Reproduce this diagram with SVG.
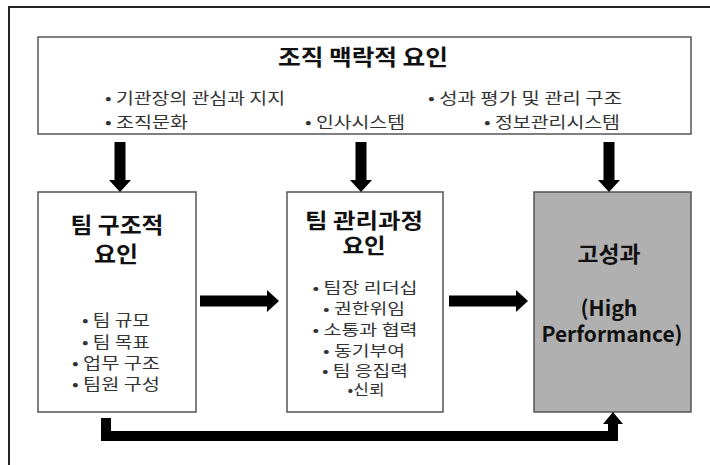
<svg xmlns="http://www.w3.org/2000/svg" width="710" height="465" viewBox="0 0 710 465">
<style>
.box{fill:#fff;stroke:#555;stroke-width:1.5}
.gbox{fill:#b0b0b0;stroke:#555;stroke-width:1.5}
.t{font-family:"Noto Sans CJK KR","Noto Sans",sans-serif;font-weight:bold;fill:#111}
.b{font-family:"Noto Sans CJK KR","Noto Sans",sans-serif;font-size:16px;fill:#333}
.b2{font-family:"Noto Sans CJK KR","Noto Sans",sans-serif;font-size:16px;fill:#333;text-anchor:middle}
.b3{font-family:"Noto Sans CJK KR","Noto Sans",sans-serif;font-size:15px;fill:#333;text-anchor:middle}
.c{text-anchor:middle}
.arr{fill:#000}
.line{fill:none;stroke:#000;stroke-width:10}
</style>
<defs>
<path id="darrow" d="M-5.5,0 H5.5 V38 H11 L0,50 L-11,38 H-5.5 Z"/>
<path id="rarrow" d="M0,-5.5 V5.5 H67 V11 L79,0 L67,-11 V-5.5 Z"/>
</defs>
<rect width="710" height="465" fill="#fff"/>
<rect x="9" y="7" width="800" height="600" fill="none" stroke="#222" stroke-width="2"/>

<g id="context">
<rect class="box" x="38" y="37" width="653" height="97"/>
<text class="t c" x="363" y="65" font-size="22" textLength="170" lengthAdjust="spacingAndGlyphs">조직 맥락적 요인</text>
<text class="b" x="105" y="104" textLength="180" lengthAdjust="spacingAndGlyphs">• 기관장의 관심과 지지</text>
<text class="b" x="428" y="104" textLength="194" lengthAdjust="spacingAndGlyphs">• 성과 평가 및 관리 구조</text>
<text class="b" x="105" y="128" textLength="83" lengthAdjust="spacingAndGlyphs">• 조직문화</text>
<text class="b" x="305" y="128" textLength="100" lengthAdjust="spacingAndGlyphs">• 인사시스템</text>
<text class="b" x="484" y="128" textLength="136" lengthAdjust="spacingAndGlyphs">• 정보관리시스템</text>
</g>

<g id="structure">
<rect class="box" x="38" y="192" width="158" height="220"/>
<text class="t c" x="117" y="233" font-size="22" textLength="93" lengthAdjust="spacingAndGlyphs">팀 구조적</text>
<text class="t c" x="116" y="262" font-size="22" textLength="44" lengthAdjust="spacingAndGlyphs">요인</text>
<text class="b2" x="116" y="326" textLength="68" lengthAdjust="spacingAndGlyphs">• 팀 규모</text>
<text class="b2" x="116" y="348" textLength="68" lengthAdjust="spacingAndGlyphs">• 팀 목표</text>
<text class="b2" x="116" y="369" textLength="88" lengthAdjust="spacingAndGlyphs">• 업무 구조</text>
<text class="b2" x="116" y="390" textLength="88" lengthAdjust="spacingAndGlyphs">• 팀원 구성</text>
</g>

<g id="process">
<rect class="box" x="287" y="192" width="156" height="220"/>
<text class="t c" x="364" y="228" font-size="21" textLength="118" lengthAdjust="spacingAndGlyphs">팀 관리과정</text>
<text class="t c" x="364" y="253" font-size="21" textLength="43" lengthAdjust="spacingAndGlyphs">요인</text>
<text class="b3" x="365" y="293" textLength="105" lengthAdjust="spacingAndGlyphs">• 팀장 리더십</text>
<text class="b3" x="364" y="314" textLength="82" lengthAdjust="spacingAndGlyphs">• 권한위임</text>
<text class="b3" x="365" y="335" textLength="105" lengthAdjust="spacingAndGlyphs">• 소통과 협력</text>
<text class="b3" x="364" y="356" textLength="82" lengthAdjust="spacingAndGlyphs">• 동기부여</text>
<text class="b3" x="365" y="376" textLength="86" lengthAdjust="spacingAndGlyphs">• 팀 응집력</text>
<text class="b3" x="366" y="395" textLength="37" lengthAdjust="spacingAndGlyphs">•신뢰</text>
</g>

<g id="performance">
<rect class="gbox" x="534" y="192" width="157" height="220"/>
<text class="t c" x="609" y="262" font-size="22" textLength="63" lengthAdjust="spacingAndGlyphs">고성과</text>
<text class="t c" x="609" y="316" font-size="21" textLength="57" lengthAdjust="spacingAndGlyphs">(High</text>
<text class="t c" x="612" y="342" font-size="21" textLength="141" lengthAdjust="spacingAndGlyphs">Performance)</text>
</g>

<g id="connectors">
<use href="#darrow" class="arr" x="120" y="142"/>
<use href="#darrow" class="arr" x="361" y="142"/>
<use href="#darrow" class="arr" x="609" y="142"/>
<use href="#rarrow" class="arr" x="200" y="301"/>
<use href="#rarrow" class="arr" x="449" y="301"/>
<polyline class="line" points="106,418 106,436 613,436 613,422"/>
<polygon class="arr" points="603,424 613,412 623,424"/>
</g>
</svg>
